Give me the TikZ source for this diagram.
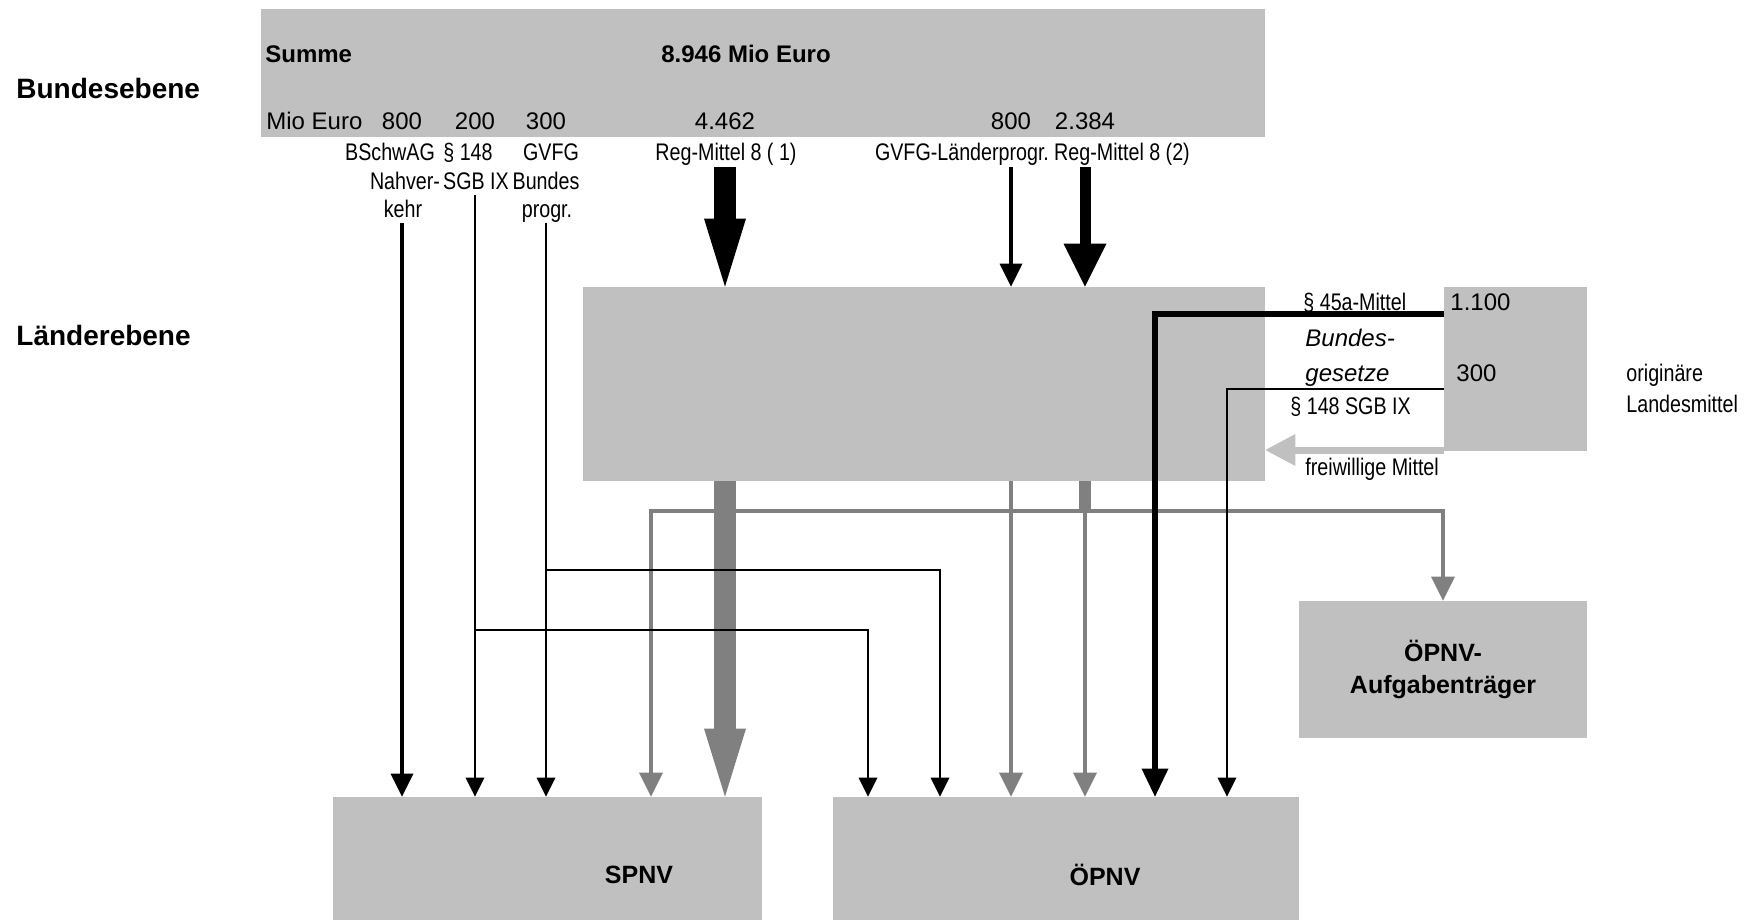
\documentclass[tikz,border=0pt]{standalone}
\usepackage{fontspec}
\setmainfont{Liberation Sans}
\newfontfamily\narrowfont{Liberation Sans}[FakeStretch=0.82]
\usepackage{xcolor}
\usepackage{tikz}
\usetikzlibrary{arrows.meta,positioning,calc}
\definecolor{Panel}{HTML}{C0C0C0}
\definecolor{Flow}{HTML}{808080}
\tikzset{
  panel/.style={fill=Panel,draw=none,inner sep=0pt},
  level/.style={inner sep=0pt,font=\fontsize{14}{17}\selectfont\bfseries},
  head/.style={inner sep=0pt,font=\fontsize{12}{14}\selectfont\bfseries},
  boxlbl/.style={inner sep=0pt,align=center,font=\fontsize{12.5}{16}\selectfont\bfseries},
  num/.style={inner sep=0pt,text height=9pt,text depth=3pt,font=\fontsize{12}{14}\selectfont},
  lbl/.style={num,font=\fontsize{12}{14}\selectfont\narrowfont},
  law/.style={num,font=\fontsize{12}{14}\selectfont\itshape},
  thinflow/.style={draw=black,line width=1pt,-{Triangle[width=9.5pt,length=9.5pt,line width=0pt]}},
  medflow/.style={draw=black,line width=2pt,-{Triangle[width=11.5pt,length=11.5pt,line width=0pt]}},
  heavyflow/.style={draw=black,line width=3pt,-{Triangle[width=13.5pt,length=14pt,line width=0pt]}},
  greyflow/.style={draw=Flow,line width=2pt,-{Triangle[width=12pt,length=12pt,line width=0pt]}},
  bigflow/.style={line width=11pt,-{Triangle[width=21pt,length=34pt,line width=0pt]}},
  regflow/.style={draw=black,line width=5.5pt,-{Triangle[width=21.5pt,length=21.5pt,line width=0pt]}},
  freeflow/.style={draw=Panel,line width=3.5pt,-{Triangle[width=16pt,length=15pt,line width=0pt]}},
  stub/.style={draw=Flow,line width=6pt}
}

\begin{document}
\begin{tikzpicture}[x=0.5pt,y=-0.5pt]
  \useasboundingbox (0,0) rectangle (1750,920);
  % Ebenen
  \node[level,anchor=west] (bund) at (16,88) {Bundesebene};
  \node[level,anchor=west] (land) at (16,335) {Länderebene};
  % Kaesten
  \node[panel,minimum width=502pt,minimum height=64pt] (bundbox) at (763,73) {};
  \node[panel,minimum width=341pt,minimum height=97pt] (landbox) at (924,384) {};
  \node[panel,minimum width=71.5pt,minimum height=82pt] (mittelbox) at (1515.5,369) {};
  \node[panel,boxlbl,minimum width=144pt,minimum height=68.5pt] (aufbox) at (1443,669.5) {ÖPNV-\\Aufgabenträger};
  \node[panel,minimum width=214.5pt,minimum height=62pt] (spnv) at (547.5,859) {};
  \node[panel,minimum width=233pt,minimum height=62pt] (oepnv) at (1066,859) {};
  \node[boxlbl] (spnvlbl) at (639,875) {SPNV};
  \node[boxlbl] (oepnvlbl) at (1105,875) {ÖPNV};
  % Bundesebene
  \node[head,anchor=west] (summe) at (265,54) {Summe};
  \node[head] (total) at (746,54) {8.946 Mio Euro};
  \node[num,anchor=west] (mio) at (266,123) {Mio Euro};
  \node[num] (n800) at (402,123) {800};
  \node[num] (n200) at (475,123) {200};
  \node[num] (n300) at (546,123) {300};
  \node[num] (n4462) at (725,123) {4.462};
  \node[num] (n800b) at (1011,123) {800};
  \node[num] (n2384) at (1085,123) {2.384};
  \node[lbl] (bschw) at (390,155) {BSchwAG};
  \node[lbl] (p148) at (468,155) {§ 148};
  \node[lbl] (gvfg) at (551,155) {GVFG};
  \node[lbl] (reg1) at (726,155) {Reg-Mittel 8 ( 1)};
  \node[lbl] (gvfgl) at (962,155) {GVFG-Länderprogr.};
  \node[lbl] (reg2) at (1122,155) {Reg-Mittel 8 (2)};
  \node[lbl] (nahver) at (405,183) {Nahver-};
  \node[lbl] (sgb) at (476,183) {SGB IX};
  \node[lbl] (bprog) at (546,183) {Bundes};
  \node[lbl] (kehr) at (403,211) {kehr};
  \node[lbl] (progr) at (547,211) {progr.};
  % Landesmittel
  \node[lbl,anchor=west] (l45) at (1303,304) {§ 45a-Mittel};
  \node[num,anchor=west] (n1100) at (1450,304) {1.100};
  \node[law,anchor=west] (bg1) at (1305,340) {Bundes-};
  \node[law,anchor=west] (bg2) at (1305,375) {gesetze};
  \node[num,anchor=west] (n300l) at (1456,375) {300};
  \node[lbl,anchor=west] (l148) at (1290,408) {§ 148 SGB IX};
  \node[lbl,anchor=west] (frei) at (1305,469) {freiwillige Mittel};
  \node[lbl,anchor=west] (orig) at (1626,375) {originäre};
  \node[lbl,anchor=west] (landes) at (1626,406) {Landesmittel};
  \coordinate (m45) at (1444,314);
  \coordinate (m148) at (1444,389);
  \coordinate (mfrei) at (1444,450);
  \coordinate (c45) at (1155,0);
  \coordinate (c148) at (1227,0);
  \coordinate (c200) at (868,0);
  \coordinate (c300) at (940,0);
  \coordinate (c653) at (651,0);
  \coordinate (b200) at (475,630);
  \coordinate (b300) at (546,570);
  \coordinate (split) at (1085,511);
  % Land -> SPNV / OePNV / Aufgabentraeger
  \draw[bigflow,draw=Flow] (n4462 |- landbox.south) -- (n4462 |- spnv.north);
  \draw[greyflow] (n800b |- landbox.south) -- (n800b |- oepnv.north);
  \draw[stub] (n2384 |- landbox.south) -- (split);
  \draw[greyflow] (split) -| (c653 |- spnv.north);
  \draw[greyflow] (split) -| (aufbox.north);
  \draw[greyflow] (split) -- (split |- oepnv.north);
  \draw[freeflow] (mfrei) -- (landbox.east |- mfrei);
  % Bund -> Land
  \draw[bigflow,draw=black] (n4462 |- reg1.south) -- (n4462 |- landbox.north);
  \draw[medflow] (n800b |- gvfgl.south) -- (n800b |- landbox.north);
  \draw[regflow] (n2384 |- reg2.south) -- (n2384 |- landbox.north);
  % Bund -> SPNV / OePNV
  \draw[medflow] (n800 |- kehr.south) -- (n800 |- spnv.north);
  \draw[thinflow] (n200 |- sgb.south) -- (n200 |- spnv.north);
  \draw[thinflow] (n300 |- progr.south) -- (n300 |- spnv.north);
  \draw[thinflow] (b200) -| (c200 |- oepnv.north);
  \draw[thinflow] (b300) -| (c300 |- oepnv.north);
  % Bundesgesetze -> OePNV
  \draw[heavyflow] (m45) -| (c45 |- oepnv.north);
  \draw[thinflow] (m148) -| (c148 |- oepnv.north);
\end{tikzpicture}
\end{document}
